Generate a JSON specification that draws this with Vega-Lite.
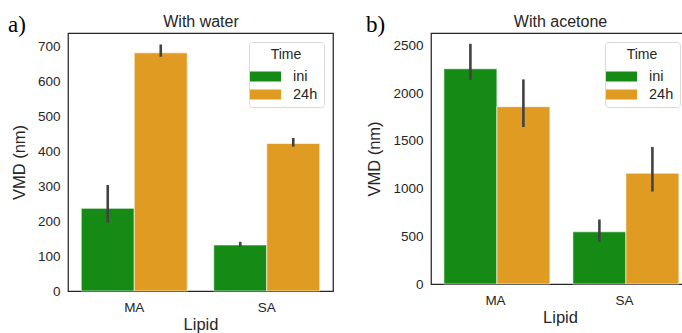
{
  "$schema": "https://vega.github.io/schema/vega-lite/v6.json",
  "padding": {"left": 7, "top": 12, "right": 0, "bottom": 0},
  "data": {
    "values": [
      {"panel": "a", "Lipid": "MA", "Time": "ini", "mean": 237, "lo": 196, "hi": 304},
      {"panel": "a", "Lipid": "MA", "Time": "24h", "mean": 683, "lo": 672, "hi": 707},
      {"panel": "a", "Lipid": "SA", "Time": "ini", "mean": 132, "lo": 128, "hi": 141},
      {"panel": "a", "Lipid": "SA", "Time": "24h", "mean": 423, "lo": 414, "hi": 439},
      {"panel": "b", "Lipid": "MA", "Time": "ini", "mean": 2255, "lo": 2140, "hi": 2517},
      {"panel": "b", "Lipid": "MA", "Time": "24h", "mean": 1858, "lo": 1645, "hi": 2144},
      {"panel": "b", "Lipid": "SA", "Time": "ini", "mean": 547, "lo": 442, "hi": 676},
      {"panel": "b", "Lipid": "SA", "Time": "24h", "mean": 1161, "lo": 969, "hi": 1436}
    ]
  },
  "spacing": 31,
  "hconcat": [
    {
      "width": 265,
      "height": 258,
      "title": {"text": "a)", "anchor": "start", "frame": "group", "dx": -60, "dy": 28},
      "transform": [{"filter": "datum.panel === 'a'"}],
      "layer": [
        {
          "mark": {"type": "bar", "stroke": "white", "strokeWidth": 1, "strokeOpacity": 0.6},
          "encoding": {
            "x": {"field": "Lipid", "type": "nominal", "sort": ["MA", "SA"],
                  "scale": {"paddingInner": 0.2, "paddingOuter": 0.1},
                  "axis": {"title": "Lipid", "orient": "bottom", "labelAngle": 0}},
            "xOffset": {"field": "Time", "type": "nominal", "sort": ["ini", "24h"], "scale": {"paddingInner": 0, "paddingOuter": 0}},
            "y": {"field": "mean", "type": "quantitative",
                  "scale": {"domain": [0, 740], "nice": false},
                  "axis": {"title": "VMD (nm)", "values": [0, 100, 200, 300, 400, 500, 600, 700], "labelOverlap": false, "format": "d"}},
            "color": {"field": "Time", "type": "nominal", "sort": ["ini", "24h"],
                      "scale": {"domain": ["ini", "24h"], "range": ["#158b15", "#df9b22"]},
                      "legend": {"title": "Time"}}
          }
        },
        {
          "mark": {"type": "rule", "color": "#424242", "strokeWidth": 2.6},
          "encoding": {
            "x": {"field": "Lipid", "type": "nominal", "sort": ["MA", "SA"],
                  "axis": {"orient": "top", "title": "With water", "labels": false}},
            "xOffset": {"field": "Time", "type": "nominal", "sort": ["ini", "24h"]},
            "y": {"field": "lo", "type": "quantitative",
                  "axis": {"title": "VMD (nm)", "values": [0, 100, 200, 300, 400, 500, 600, 700], "labelOverlap": false, "format": "d"}},
            "y2": {"field": "hi"}
          }
        }
      ],
      "resolve": {"axis": {"x": "independent"}}
    },
    {
      "width": 258,
      "height": 251,
      "title": {"text": "b)", "anchor": "start", "frame": "group", "dx": -65, "dy": 28},
      "transform": [{"filter": "datum.panel === 'b'"}],
      "layer": [
        {
          "mark": {"type": "bar", "stroke": "white", "strokeWidth": 1, "strokeOpacity": 0.6},
          "encoding": {
            "x": {"field": "Lipid", "type": "nominal", "sort": ["MA", "SA"],
                  "scale": {"paddingInner": 0.2, "paddingOuter": 0.1},
                  "axis": {"title": "Lipid", "orient": "bottom", "labelAngle": 0}},
            "xOffset": {"field": "Time", "type": "nominal", "sort": ["ini", "24h"], "scale": {"paddingInner": 0, "paddingOuter": 0}},
            "y": {"field": "mean", "type": "quantitative",
                  "scale": {"domain": [0, 2630], "nice": false},
                  "axis": {"title": "VMD (nm)", "values": [0, 500, 1000, 1500, 2000, 2500], "labelOverlap": false, "format": "d"}},
            "color": {"field": "Time", "type": "nominal", "sort": ["ini", "24h"],
                      "scale": {"domain": ["ini", "24h"], "range": ["#158b15", "#df9b22"]},
                      "legend": {"title": "Time"}}
          }
        },
        {
          "mark": {"type": "rule", "color": "#424242", "strokeWidth": 2.6},
          "encoding": {
            "x": {"field": "Lipid", "type": "nominal", "sort": ["MA", "SA"],
                  "axis": {"orient": "top", "title": "With acetone", "labels": false}},
            "xOffset": {"field": "Time", "type": "nominal", "sort": ["ini", "24h"]},
            "y": {"field": "lo", "type": "quantitative",
                  "axis": {"title": "VMD (nm)", "values": [0, 500, 1000, 1500, 2000, 2500], "labelOverlap": false, "format": "d"}},
            "y2": {"field": "hi"}
          }
        }
      ],
      "resolve": {"axis": {"x": "independent"}}
    }
  ],
  "resolve": {"scale": {"color": "independent"}, "legend": {"color": "independent"}},
  "config": {
    "background": "white",
    "view": {"stroke": "#262626", "strokeWidth": 1.25},
    "font": "Liberation Sans",
    "axis": {
      "labelFont": "Liberation Sans", "titleFont": "Liberation Sans",
      "labelFontSize": 13.5, "titleFontSize": 16.5, "titleFontWeight": "normal",
      "labelColor": "#262626", "titleColor": "#262626",
      "ticks": false, "tickSize": 0, "grid": false, "domain": false,
      "labelPadding": 8, "labelOverlap": false
    },
    "axisBottom": {"titlePadding": 2, "labelPadding": 9.5},
    "axisTop": {"titlePadding": 4, "titleFontSize": 16},
    "axisY": {"titlePadding": 10},
    "title": {"font": "Liberation Serif", "fontSize": 23, "fontWeight": "normal", "color": "#000000", "offset": 0},
    "legend": {
      "orient": "top-right", "offset": 9,
      "titleAnchor": "middle", "titleFont": "Liberation Sans", "titleFontSize": 14, "titleFontWeight": "normal", "titleColor": "#262626",
      "labelFont": "Liberation Sans", "labelFontSize": 14.5, "labelColor": "#262626",
      "symbolType": "M-1.5,-0.48H1.5V0.48H-1.5Z", "symbolSize": 428, "symbolStrokeWidth": 0, "symbolOpacity": 1,
      "strokeColor": "#d9d9d9", "cornerRadius": 3, "fillColor": "white", "padding": 6,
      "labelOffset": 17, "titlePadding": 4, "rowPadding": 1
    }
  }
}
